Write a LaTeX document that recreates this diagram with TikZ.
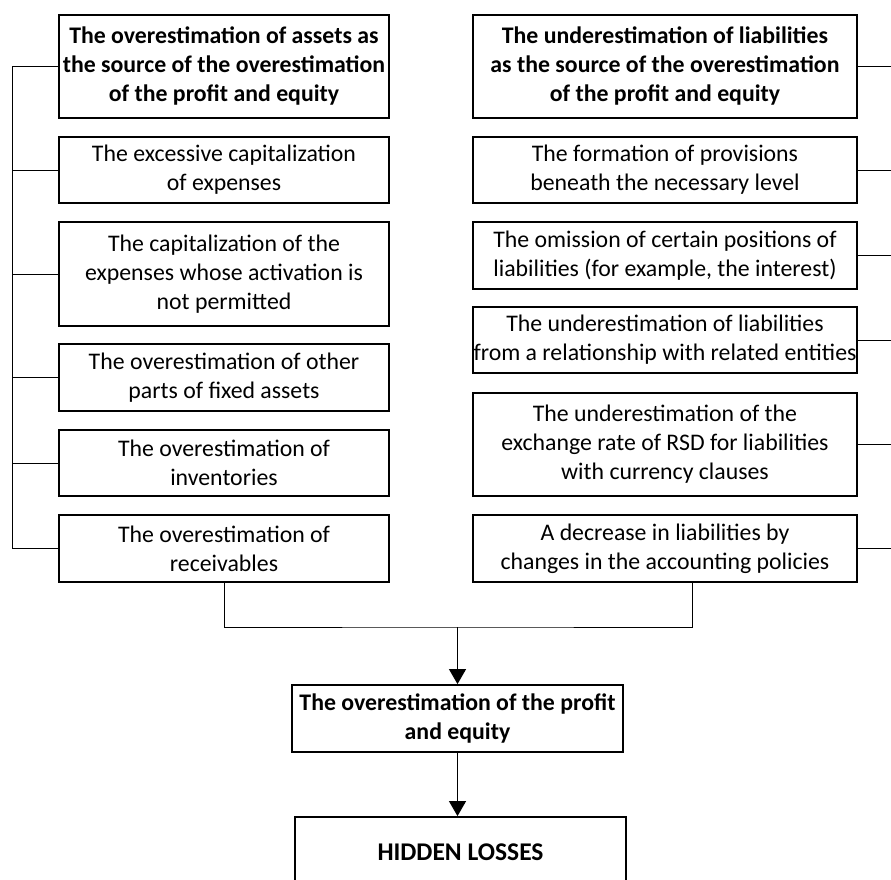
\documentclass[tikz,border=0pt]{standalone}
\usepackage{fontspec}
\setmainfont{Carlito}
\usetikzlibrary{arrows.meta}

\begin{document}
\begin{tikzpicture}
[
	x						= 1pt,
	y						= -1pt,
	cause box/.style		=
	{
		draw,
		line width			= 1.8pt,
		align				= center,
		inner sep			= 0pt,
		font				= \fontsize{23.8}{29}\selectfont
	},
	left box/.style			= {cause box, minimum width = 330pt},
	right box/.style		= {cause box, minimum width = 384pt},
	head/.style				= {font = \bfseries\fontsize{23.8}{29}\selectfont},
	link/.style				= {line width = 1pt},
	flow/.style				= {link, -{Triangle[length = 15pt, width = 17pt]}},
]

\clip (0,0) rectangle (891,880);

% left column: assets
\node [left box, head, minimum height = 103pt] (a1) at (224,66.5)
	{The overestimation of assets as\\the source of the overestimation\\of the profit and equity};
\node [left box, minimum height = 66pt] (a2) at (224,170)
	{The excessive capitalization\\of expenses};
\node [left box, minimum height = 104pt] (a3) at (224,274)
	{The capitalization of the\\expenses whose activation is\\not permitted};
\node [left box, minimum height = 67pt] (a4) at (224,377.5)
	{The overestimation of other\\parts of fixed assets};
\node [left box, minimum height = 66pt] (a5) at (224,463)
	{The overestimation of\\inventories};
\node [left box, minimum height = 67pt] (a6) at (224,548.5)
	{The overestimation of\\receivables};

% right column: liabilities
\node [right box, head, minimum height = 103pt] (l1) at (665,66.5)
	{The underestimation of liabilities\\as the source of the overestimation\\of the profit and equity};
\node [right box, minimum height = 66pt] (l2) at (665,170)
	{The formation of provisions\\beneath the necessary level};
\node [right box, minimum height = 67pt] (l3) at (665,255.5)
	{The omission of certain positions of\\liabilities (for example, the interest)};
\node [right box, minimum height = 66pt] (l4) at (665,340)
	{The underestimation of liabilities\\from a relationship with related entities};
\node [right box, minimum height = 103pt] (l5) at (665,444.5)
	{The underestimation of the\\exchange rate of RSD for liabilities\\with currency clauses};
\node [right box, minimum height = 67pt] (l6) at (665,548.5)
	{A decrease in liabilities by\\changes in the accounting policies};

% result
\node [left box, head, minimum width = 331pt, minimum height = 67pt] (profit) at (457.5,718.5)
	{The overestimation of the profit\\and equity};
\node [left box, head, minimum width = 331pt, minimum height = 70pt,
	font = \bfseries\fontsize{25.5}{30}\selectfont] (losses) at (460.5,852)
	{HIDDEN LOSSES};

% left bus
\coordinate (abus) at (12,0);
\draw [link] (a1.west) -| (abus |- a6.west) -- (a6.west);
\foreach \n in {2,...,5}
{
	\draw [link] (a\n.west) -- (abus |- a\n.west);
}

% right stubs
\coordinate (lbus) at (891,0);
\foreach \n in {1,...,6}
{
	\draw [link] (l\n.east) -- (lbus |- l\n.east);
}

% joining the columns
\coordinate (join) at (457.5,627);
\coordinate (lfoot) at (692,0);
\draw [link] (a6.south) |- (join) -| (lfoot |- l6.south);
\draw [flow] (join) -- (profit.north);
\draw [flow] (profit.south) -- (losses.north -| profit.south);

\end{tikzpicture}
\end{document}
